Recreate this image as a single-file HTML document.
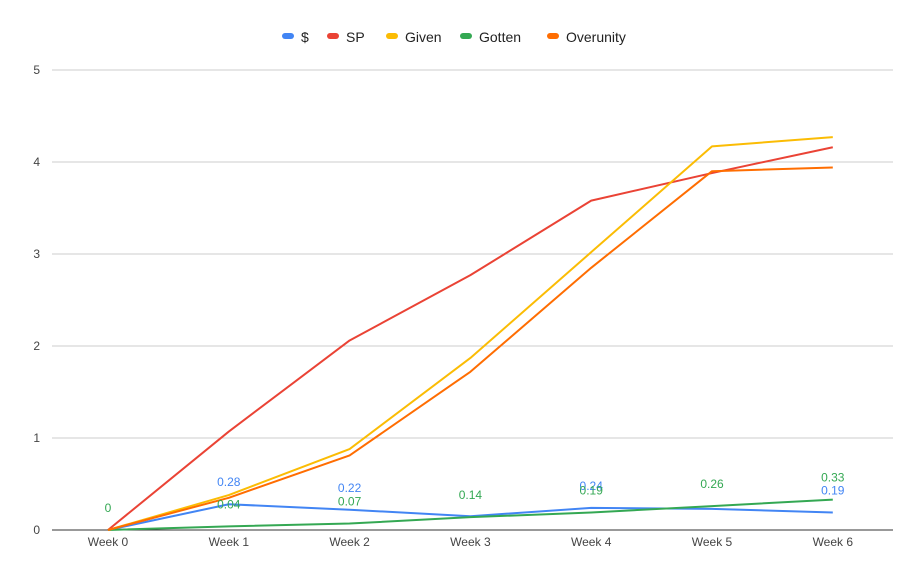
<!DOCTYPE html>
<html><head><meta charset="utf-8"><style>
body{margin:0;background:#fff;font-family:"Liberation Sans",Arial,sans-serif;}
svg text{font-family:"Liberation Sans",Arial,sans-serif;}
</style></head><body>
<svg id="c" width="914" height="572"></svg>
<script>
const categories=["Week 0","Week 1","Week 2","Week 3","Week 4","Week 5","Week 6"];
const seriesNames=["$","SP","Given","Gotten","Overunity"];
const colors=["#4285f4","#ea4335","#fbbc04","#34a853","#ff6d01"];
const dollarVals=[0,0.28,0.22,0.15,0.24,0.23,0.19];
const spVals=[0,1.07,2.06,2.77,3.58,3.88,4.16];
const givenVals=[0,0.38,0.88,1.87,3.02,4.17,4.27];
const gottenVals=[0,0.04,0.07,0.14,0.19,0.26,0.33];
const overVals=[0,0.35,0.81,1.72,2.85,3.90,3.94];
const dollarLabels=["","0.28","0.22","","0.24","","0.19"];
const gottenLabels=["0","0.04","0.07","0.14","0.19","0.26","0.33"];
const yTicks=[0,1,2,3,4,5];
const NS="http://www.w3.org/2000/svg";
const svg=document.getElementById('c');
const x=i=>108+i*120.8;
const y=v=>530-v*92;
function el(t,a,p){const e=document.createElementNS(NS,t);for(const k in a)e.setAttribute(k,a[k]);(p||svg).appendChild(e);return e;}
yTicks.forEach(t=>{
  if(t>0){const g=el('line',{x1:52,x2:893,y1:y(t),y2:y(t),stroke:'#cccccc','stroke-width':1});
  
  }
  const l=el('text',{x:40,y:y(t)+4,'text-anchor':'end','font-size':12,fill:'#444'});l.textContent=t;
  
  
});
const ax=el('line',{x1:52,x2:893,y1:530,y2:530,stroke:'#333','stroke-width':1});


categories.forEach((c,i)=>{
  const t=el('text',{x:x(i),y:546,'text-anchor':'middle','font-size':12,fill:'#444'});t.textContent=c;
  
  
});
const all=[dollarVals,spVals,givenVals,gottenVals,overVals];
const order=[0,3,1,2,4];
order.forEach(s=>{
  const p=el('polyline',{points:all[s].map((v,i)=>x(i)+','+y(v)).join(' '),fill:'none',stroke:colors[s],'stroke-width':2,'stroke-linejoin':'round'});
  
  
});
function labels(vals,labs,col){
  vals.forEach((v,i)=>{
    if(!labs[i])return;
    const t=el('text',{x:x(i),y:y(v)-18,'text-anchor':'middle','font-size':12,fill:col});t.textContent=labs[i];
    
    
  });
}
labels(dollarVals,dollarLabels,colors[0]);
labels(gottenVals,gottenLabels,colors[3]);
// legend
const lx=[282,327,386,460,547];
seriesNames.forEach((n,i)=>{
  const r=el('rect',{x:lx[i],y:33,width:12,height:6,rx:3,fill:colors[i]});
  
  
  const t=el('text',{x:lx[i]+19,y:42,'font-size':14,fill:'#222'});t.textContent=n;
  
  
});
</script>
</body></html>
